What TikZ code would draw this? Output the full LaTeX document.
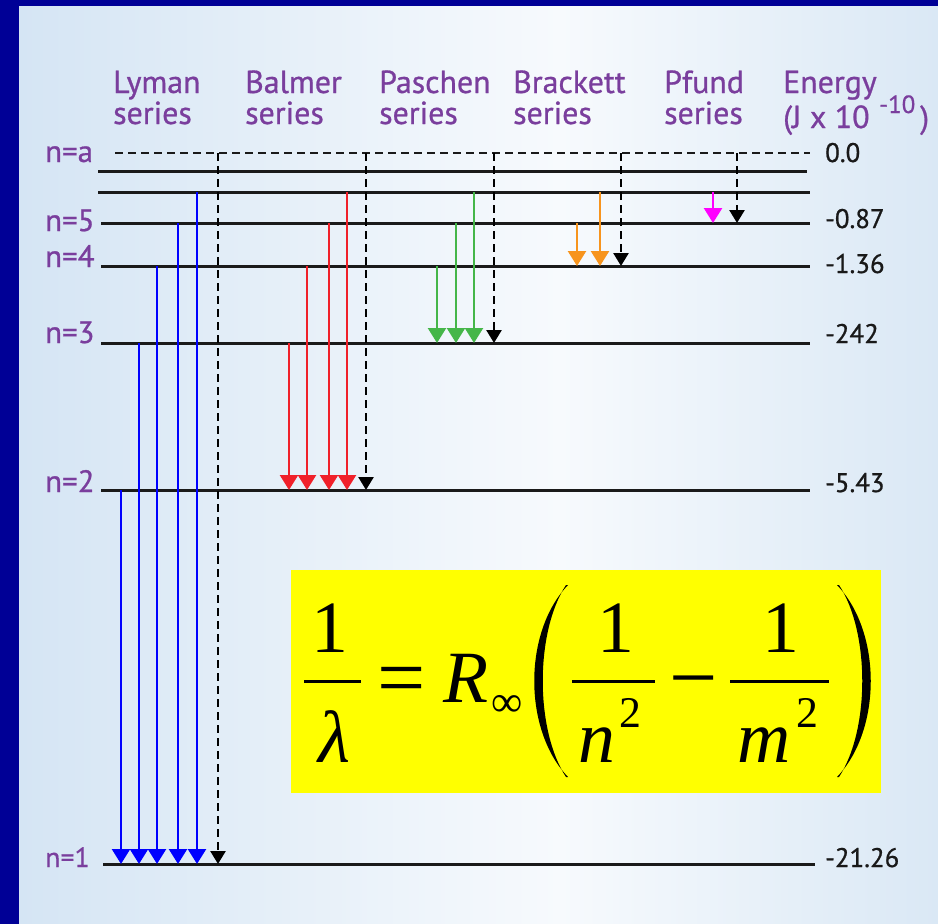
\documentclass[tikz,border=0pt]{standalone}
\usepackage{fontspec}
\setmainfont{PT Sans}
\newfontfamily\formfont{Liberation Serif}
\usetikzlibrary{arrows.meta}
\definecolor{frameblue}{HTML}{000096}
\definecolor{bgleft}{HTML}{D5E5F4}
\definecolor{bgmid}{HTML}{F7FAFD}
\definecolor{bgright}{HTML}{DAE8F5}
\definecolor{lbl}{HTML}{7A3E9D}
\definecolor{lvl}{HTML}{1A1A1A}
\definecolor{ared}{HTML}{F0202A}
\definecolor{agreen}{HTML}{45B649}
\definecolor{aorange}{HTML}{F7941D}
\definecolor{amag}{HTML}{FF00FF}
\definecolor{ablue}{HTML}{0000FF}
\definecolor{fyellow}{HTML}{FFFF00}
\begin{document}
\begin{tikzpicture}[x=1bp,y=-1bp,
  levelline/.style={draw=lvl,line width=3bp},
  toplevel/.style={draw=lvl,line width=2.6bp,dash pattern=on 8bp off 5bp},
  photon/.style={line width=2.5bp,-{Triangle[width=18bp,length=15bp]}},
  limitline/.style={draw=black,line width=2.6bp,dash pattern=on 8bp off 5bp,-{Triangle[width=15bp,length=13bp]}},
  seriesname/.style={anchor=base west,inner sep=0pt,text=lbl,font=\fontsize{32}{34}\selectfont\addfontfeature{FakeBold=0.8}},
  nlabel/.style={anchor=base west,inner sep=0pt,text=lbl,font=\fontsize{31}{33}\selectfont\addfontfeature{FakeBold=0.8}},
  elabel/.style={anchor=base west,inner sep=0pt,text=black!90,font=\fontsize{27}{29}\selectfont\addfontfeature{FakeBold=0.8}},
  fglyph/.style={anchor=base,inner sep=0pt,font=\formfont\fontsize{74}{80}\selectfont},
  fop/.style={anchor=base,inner sep=0pt,font=\formfont\fontsize{86}{90}\selectfont},
  fsmall/.style={anchor=base,inner sep=0pt,font=\formfont\fontsize{44}{48}\selectfont},
  fbar/.style={line width=3bp}
]
% frame and background
\useasboundingbox (0,0) rectangle (938,924);
\fill[frameblue] (0,0) rectangle (938,924);
\shade[left color=bgleft, right color=bgmid] (19,6) rectangle (560,924);
\shade[left color=bgmid, right color=bgright] (559.5,6) rectangle (938,924);

% header labels
\node[seriesname] (lym1) at (113,93) {Lyman};
\node[seriesname] (lym2) at (113,124) {series};
\node[seriesname] (bal1) at (245,93) {Balmer};
\node[seriesname] (bal2) at (245,124) {series};
\node[seriesname] (pas1) at (379,93) {Paschen};
\node[seriesname] (pas2) at (379,124) {series};
\node[seriesname] (bra1) at (513,93) {Brackett};
\node[seriesname] (bra2) at (513,124) {series};
\node[seriesname] (pfu1) at (664,93) {Pfund};
\node[seriesname] (pfu2) at (664,124) {series};
\node[seriesname] (en1) at (783,93) {Energy};
\node[seriesname] (en2) at (783,128) {(J x 10};
\node[seriesname,font=\fontsize{25}{27}\selectfont\addfontfeature{FakeBold=0.8}] (en3) at (879,113) {-10};
\node[seriesname] (en4) at (920,128) {)};

% level labels (left)
\node[nlabel] (na) at (45,162) {n=a};
\node[nlabel] (n5) at (45,231) {n=5};
\node[nlabel] (n4) at (45,267) {n=4};
\node[nlabel] (n3) at (45,343) {n=3};
\node[nlabel] (n2) at (45,492) {n=2};
\node[nlabel,font=\fontsize{28}{30}\selectfont\addfontfeature{FakeBold=0.5}] (n1) at (45,867) {n=1};

% energy values (right)
\node[elabel] (ea) at (825,162) {0.0};
\node[elabel] (e5) at (825,228) {-0.87};
\node[elabel] (e4) at (825,273) {-1.36};
\node[elabel] (e3) at (825,343) {-242};
\node[elabel] (e2) at (825,492) {-5.43};
\node[elabel] (e1) at (825,867) {-21.26};

% energy levels
\draw[toplevel] (115,153) -- (810,153);
\draw[levelline] (98,171) -- (807,171);
\draw[levelline] (98,192) -- (810,192);
\draw[levelline] (101,223) -- (810,223);
\draw[levelline] (101,266) -- (810,266);
\draw[levelline] (101,343) -- (810,343);
\draw[levelline] (101,490) -- (810,490);
\draw[levelline] (103,864) -- (815,864);

% Lyman series
\foreach \x/\y in {121/490,139/343,157/266,178/223,197/192}
  \draw[photon,ablue] (\x,\y) -- (\x,864);
\draw[limitline] (218,153) -- (218,864);
% Balmer series
\foreach \x/\y in {289/343,307/266,329/223,347/192}
  \draw[photon,ared] (\x,\y) -- (\x,490);
\draw[limitline] (366,153) -- (366,490);
% Paschen series
\foreach \x/\y in {437/266,456/223,474/192}
  \draw[photon,agreen] (\x,\y) -- (\x,343);
\draw[limitline] (494,153) -- (494,343);
% Brackett series
\foreach \x/\y in {577/223,600/192}
  \draw[photon,aorange] (\x,\y) -- (\x,266);
\draw[limitline] (621,153) -- (621,266);
% Pfund series
\draw[photon,amag] (713,192) -- (713,223);
\draw[limitline] (737,153) -- (737,223);

% Rydberg formula
\fill[fyellow] (291,570) rectangle (881,793);
\node[fglyph] (num1) at (330,652) {1};
\draw[fbar] (304,681) -- (361,681);
\node[fglyph] (lam) at (334,762) {\itshape λ};
\node[fop] (eq) at (402,706) {=};
\node[fglyph] (R) at (466,702) {\itshape R};
\node[fsmall] (inf) at (507,716) {∞};
\fill (568,585) .. controls (523,632) and (523,730) .. (568,777)
  -- (566,777) .. controls (535,730) and (535,632) .. (566,585) -- cycle;
\node[fglyph] (num2) at (616,652) {1};
\draw[fbar] (572,681) -- (655,681);
\node[fglyph] (den2) at (597,762) {\itshape n};
\node[fsmall] (sq2) at (630,727) {2};
\node[fop] (minus) at (694,706) {−};
\node[fglyph] (num3) at (781,652) {1};
\draw[fbar] (730,681) -- (829,681);
\node[fglyph] (den3) at (764,762) {\itshape m};
\node[fsmall] (sq3) at (807,727) {2};
\fill (837,585) .. controls (882,632) and (882,730) .. (837,777)
  -- (839,777) .. controls (870,730) and (870,632) .. (839,585) -- cycle;
\end{tikzpicture}
\end{document}
